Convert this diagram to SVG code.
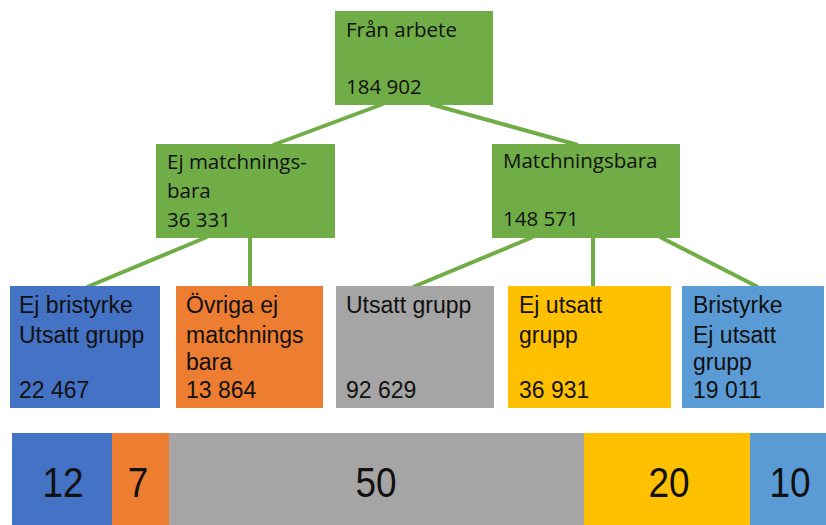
<svg xmlns="http://www.w3.org/2000/svg" width="826" height="525" viewBox="0 0 826 525">
<style>
.g{fill:#70AD47}
.t1{font-family:"Open Sans","Noto Sans",sans-serif;font-size:20.5px;fill:#111}
.t2{font-family:"Open Sans","Noto Sans",sans-serif;font-size:20.5px;fill:#111}
.t3{font-family:"Liberation Sans",Arial,sans-serif;font-size:23px;fill:#111}
.t4{font-family:"Liberation Sans",Arial,sans-serif;font-size:43px;fill:#111;text-anchor:middle}
.c line{stroke:#70AD47;stroke-width:4}
</style>
<rect width="826" height="525" fill="#fff"/>
<g class="c" id="connectors">
<line x1="383" y1="104" x2="273" y2="145"/>
<line x1="430" y1="104" x2="578" y2="145"/>
<line x1="207" y1="237" x2="87" y2="287"/>
<line x1="250" y1="237" x2="250" y2="287"/>
<line x1="533" y1="237" x2="413" y2="287"/>
<line x1="593" y1="237" x2="593" y2="287"/>
<line x1="660" y1="237" x2="758" y2="287"/>
</g>
<g id="fran-arbete">
<rect class="g" x="335" y="11" width="158" height="94"/>
<text class="t1" x="346" y="37">Från arbete</text>
<text class="t1" x="346" y="94">184 902</text>
</g>
<g id="ej-matchningsbara">
<rect class="g" x="156" y="144" width="179" height="94"/>
<text class="t2" x="167" y="169">Ej matchnings-</text>
<text class="t2" x="167" y="198">bara</text>
<text class="t2" x="167" y="227">36 331</text>
</g>
<g id="matchningsbara">
<rect class="g" x="492" y="144" width="188" height="94"/>
<text class="t2" x="503" y="168">Matchningsbara</text>
<text class="t2" x="503" y="226">148 571</text>
</g>
<g id="ej-bristyrke">
<rect x="10" y="286" width="150" height="122" fill="#4472C4"/>
<text class="t3" x="19" y="313">Ej bristyrke</text>
<text class="t3" x="19" y="343">Utsatt grupp</text>
<text class="t3" x="19" y="398">22 467</text>
</g>
<g id="ovriga">
<rect x="176" y="286" width="147" height="122" fill="#ED7D31"/>
<text class="t3" x="186" y="313">Övriga ej</text>
<text class="t3" x="186" y="343">matchnings</text>
<text class="t3" x="186" y="370">bara</text>
<text class="t3" x="186" y="398">13 864</text>
</g>
<g id="utsatt-grupp">
<rect x="336" y="286" width="158" height="122" fill="#A5A5A5"/>
<text class="t3" x="346" y="313">Utsatt grupp</text>
<text class="t3" x="346" y="398">92 629</text>
</g>
<g id="ej-utsatt">
<rect x="508" y="286" width="163" height="122" fill="#FFC000"/>
<text class="t3" x="519" y="313">Ej utsatt</text>
<text class="t3" x="519" y="343">grupp</text>
<text class="t3" x="519" y="398">36 931</text>
</g>
<g id="bristyrke">
<rect x="682" y="286" width="142" height="122" fill="#5B9BD5"/>
<text class="t3" x="693" y="313">Bristyrke</text>
<text class="t3" x="693" y="343">Ej utsatt</text>
<text class="t3" x="693" y="370">grupp</text>
<text class="t3" x="693" y="398">19 011</text>
</g>
<g id="bar">
<rect x="12" y="433" width="100" height="92" fill="#4472C4"/>
<rect x="112" y="433" width="57" height="92" fill="#ED7D31"/>
<rect x="169" y="433" width="415" height="92" fill="#A5A5A5"/>
<rect x="584" y="433" width="166" height="92" fill="#FFC000"/>
<rect x="750" y="433" width="76" height="92" fill="#5B9BD5"/>
<text class="t4" transform="translate(63,497) scale(0.86,1)">12</text>
<text class="t4" transform="translate(138,497) scale(0.86,1)">7</text>
<text class="t4" transform="translate(376,497) scale(0.86,1)">50</text>
<text class="t4" transform="translate(669,497) scale(0.86,1)">20</text>
<text class="t4" transform="translate(790,497) scale(0.86,1)">10</text>
</g>
</svg>
